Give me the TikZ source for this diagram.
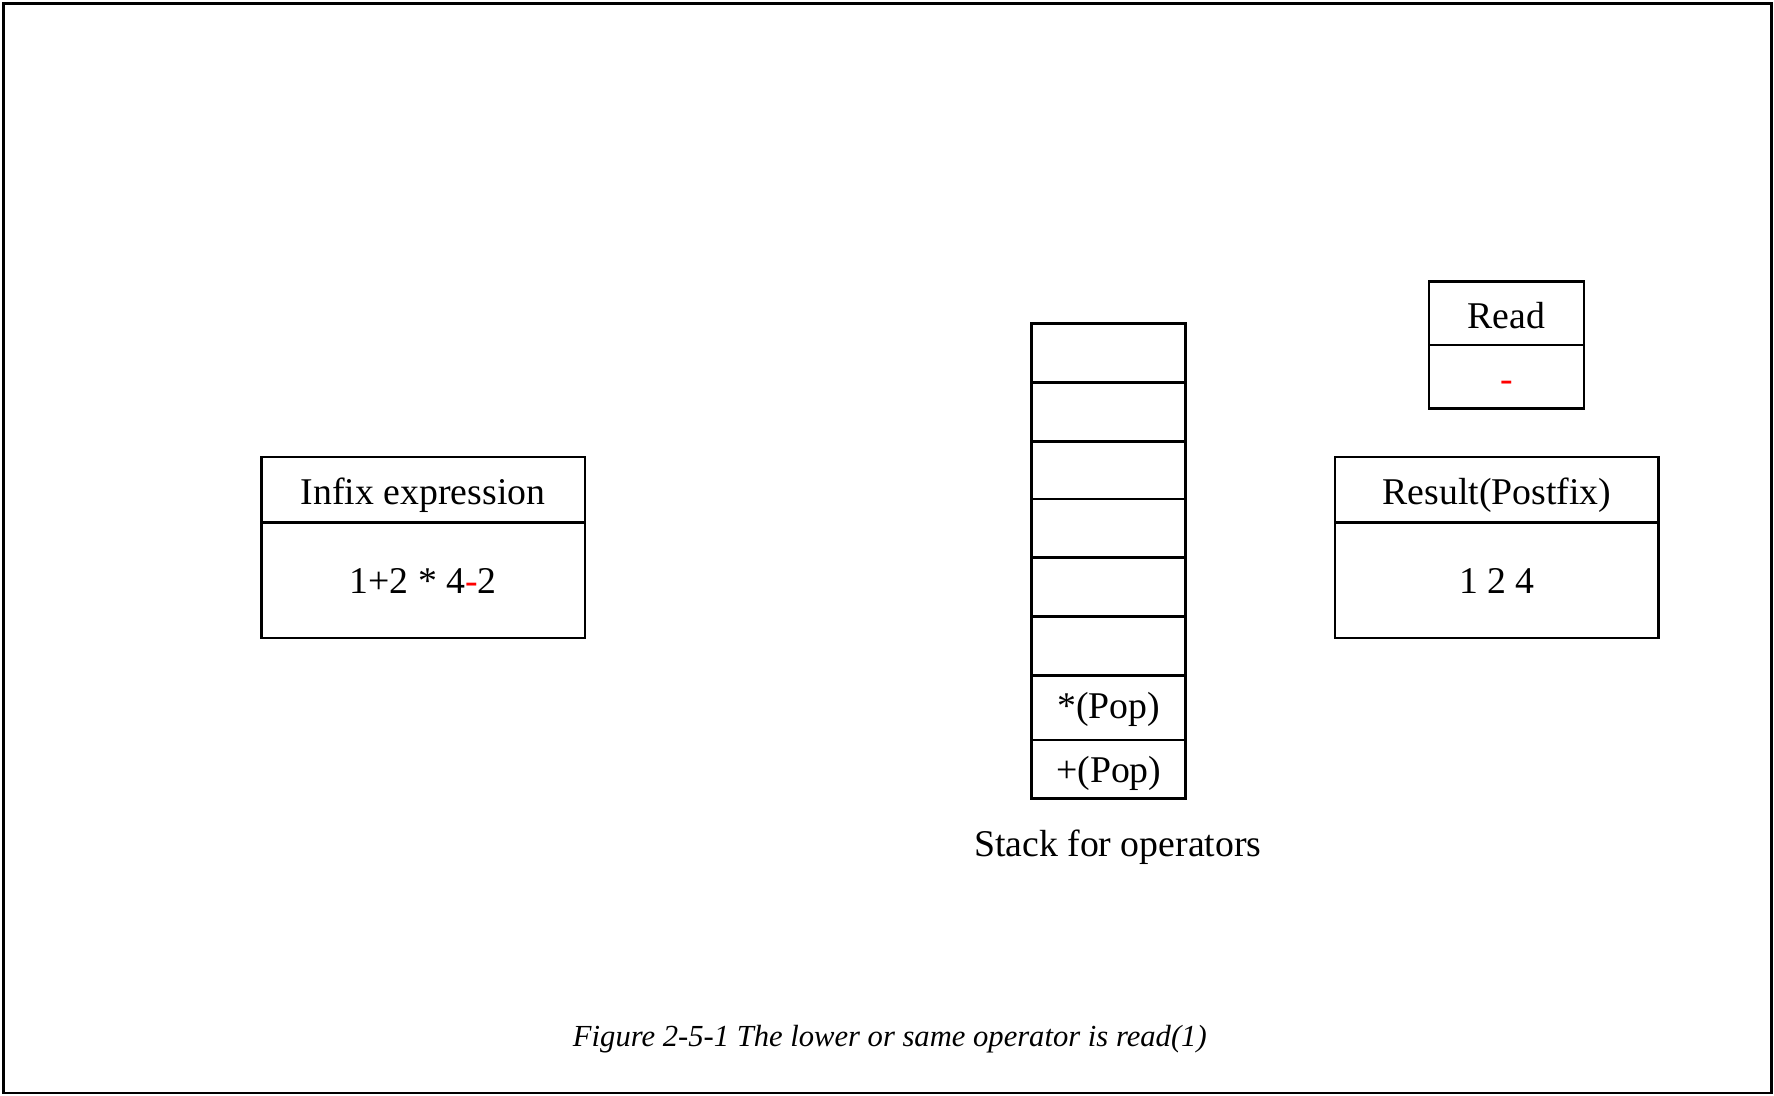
\documentclass[tikz,border=0pt]{standalone}
\usepackage{fontspec}
\setmainfont{Liberation Serif}
\usepackage{xcolor}
\newcommand{\boxfont}{\fontsize{19}{23}\selectfont}
\newcommand{\capfont}{\fontsize{15.4}{18}\selectfont\itshape}

\begin{document}
\begin{tikzpicture}[x=0.02cm,y=0.02cm]
	\tikzstyle{every node}+=[inner sep=0pt,anchor=base,font=\boxfont]
	\tikzstyle{every path}+=[line width=1.4pt]
	\useasboundingbox (0,0) rectangle (1568,-968.7);
	\draw [black] (3,-3) rectangle (1566,-966);
	% infix expression
	\draw [black] (231,-404) rectangle (517,-564);
	\draw [black] (231,-462) -- (517,-462);
	\draw (374,-445.5) node (infixtitle) {Infix expression};
	\draw (374,-525) node (infixexpr) {1+2 * 4{\color{red}-}2};
	% stack
	\draw [black] (912,-286) rectangle (1048,-706);
	\draw [black] (912,-338) -- (1048,-338);
	\draw [black] (912,-390) -- (1048,-390);
	\draw [black] (912,-441) -- (1048,-441);
	\draw [black] (912,-493) -- (1048,-493);
	\draw [black] (912,-545) -- (1048,-545);
	\draw [black] (912,-597) -- (1048,-597);
	\draw [black] (912,-654) -- (1048,-654);
	\draw (980,-635) node (popmul) {*(Pop)};
	\draw (980,-692) node (popadd) {+(Pop)};
	\draw (988,-757) node (stacklabel) {Stack for operators};
	% read
	\draw [black] (1263,-249) rectangle (1400,-361);
	\draw [black] (1263,-305) -- (1400,-305);
	\draw (1331.5,-290) node (readtitle) {Read};
	\draw (1331.5,-346) node (readop) {\color{red}-};
	% result
	\draw [black] (1180,-404) rectangle (1466,-564);
	\draw [black] (1180,-462) -- (1466,-462);
	\draw (1323,-445.5) node (resulttitle) {Result(Postfix)};
	\draw (1323,-525) node (resultexpr) {1 2 4};
	% caption
	\draw (786.5,-925) node (figcaption) [font=\capfont] {Figure 2-5-1 The lower or same operator is read(1)};
\end{tikzpicture}
\end{document}
